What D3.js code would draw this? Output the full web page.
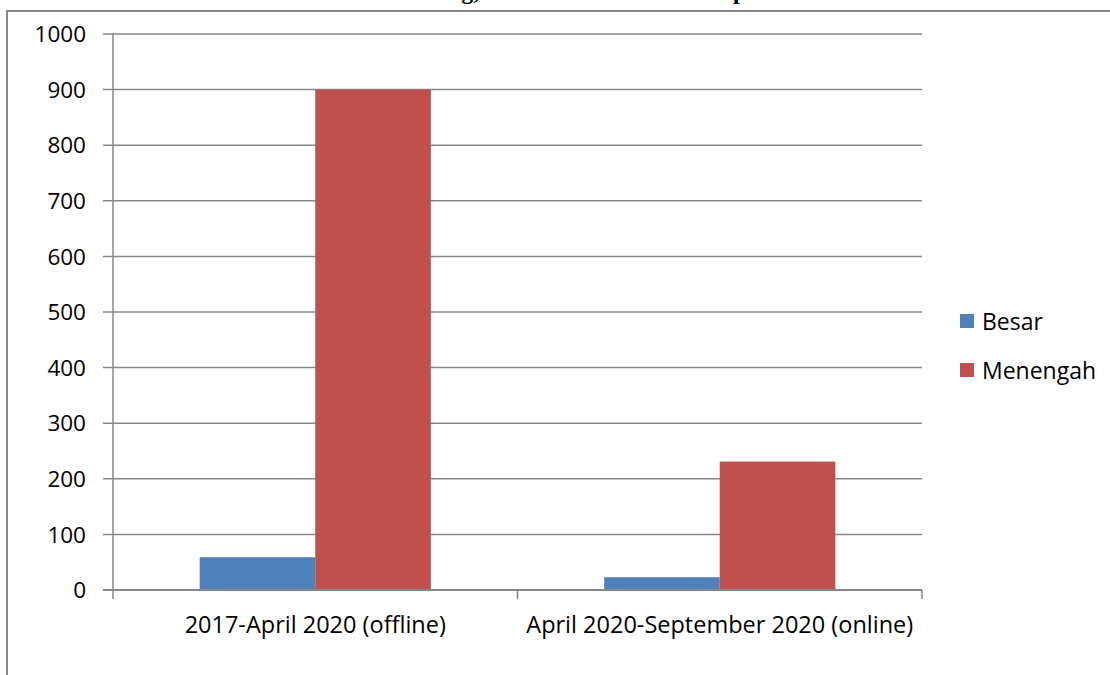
<!DOCTYPE html>
<html>
<head>
<meta charset="utf-8">
<script src="https://cdn.jsdelivr.net/npm/d3@7"></script>
<style>
  body { margin: 0; background: #fff; }
  svg text { font-family: "Open Sans", sans-serif; fill: #000; }
</style>
</head>
<body>
<div id="chart"></div>
<script>
"use strict";
// data
const categories = ["2017-April 2020 (offline)", "April 2020-September 2020 (online)"];
const seriesNames = ["Besar", "Menengah"];
const besar = [59, 23];
const menengah = [900, 231];
const yTicks = [0, 100, 200, 300, 400, 500, 600, 700, 800, 900, 1000];
const seriesColors = ["#4F81BD", "#C0504D"];

const width = 1110, height = 675;
const axisColor = "#878787";
const fontSize = 22.5;

const svg = d3.select("#chart").append("svg")
    .attr("width", width).attr("height", height);

// outer frame (only top and left edges visible)
svg.append("path")
    .attr("d", "M7,675 L7,11 L1110,11")
    .attr("fill", "none").attr("stroke", axisColor).attr("stroke-width", 2);

// title, cut off at the top of the picture as in the source
const title = svg.append("text")
    .attr("y", -1)
    .style("font-family", "'Liberation Serif', 'Times New Roman', serif")
    .style("font-weight", "bold")
    .style("font-size", "24px");
title.append("tspan").attr("x", 448).text("ng,");
title.append("tspan").attr("x", 733).text("p");

const plot = {left: 113, right: 922, top: 34, bottom: 590};

const x0 = d3.scaleBand().domain(categories).range([plot.left, plot.right]).padding(0);
const x1 = d3.scaleBand().domain(seriesNames).range([0, x0.bandwidth()])
    .paddingInner(0).paddingOuter(0.75);
const y = d3.scaleLinear().domain([0, 1000]).range([plot.bottom, plot.top]);

// gridlines + y tick marks
svg.append("g").selectAll("line").data(yTicks).join("line")
    .attr("x1", plot.left - 10).attr("x2", plot.right)
    .attr("y1", d => y(d)).attr("y2", d => y(d))
    .attr("stroke", axisColor).attr("stroke-width", 1.5);

// y labels
svg.append("g").selectAll("text").data(yTicks).join("text")
    .attr("x", 86).attr("y", d => y(d)).attr("dy", "0.36em")
    .attr("text-anchor", "end")
    .style("font-size", fontSize + "px")
    .text(d => d);

// bars
const rows = categories.map((c, i) => ({cat: c, vals: [besar[i], menengah[i]]}));
const grp = svg.append("g").selectAll("g").data(rows).join("g")
    .attr("transform", d => `translate(${x0(d.cat)},0)`);
grp.selectAll("rect").data(d => d.vals.map((v, j) => ({name: seriesNames[j], v: v, c: seriesColors[j]})))
    .join("rect")
    .attr("x", d => x1(d.name))
    .attr("width", x1.bandwidth())
    .attr("y", d => y(d.v))
    .attr("height", d => y(0) - y(d.v))
    .attr("fill", d => d.c);

// axes lines
svg.append("line")
    .attr("x1", plot.left).attr("x2", plot.left)
    .attr("y1", plot.top).attr("y2", plot.bottom)
    .attr("stroke", axisColor).attr("stroke-width", 1.5);
svg.append("line")
    .attr("x1", plot.left - 10).attr("x2", plot.right)
    .attr("y1", plot.bottom).attr("y2", plot.bottom)
    .attr("stroke", axisColor).attr("stroke-width", 2);

// x tick marks at category boundaries
const xBounds = categories.map(c => x0(c)).concat([plot.right]);
svg.append("g").selectAll("line").data(xBounds).join("line")
    .attr("x1", d => d).attr("x2", d => d)
    .attr("y1", plot.bottom).attr("y2", plot.bottom + 9)
    .attr("stroke", axisColor).attr("stroke-width", 1.5);

// category labels
svg.append("g").selectAll("text").data(categories).join("text")
    .attr("x", d => x0(d) + x0.bandwidth() / 2)
    .attr("y", 633)
    .attr("text-anchor", "middle")
    .style("font-size", "23.5px")
    .text(d => d);

// legend
const legend = svg.append("g").selectAll("g").data(seriesNames).join("g")
    .attr("transform", (d, i) => `translate(960,${314 + i * 49})`);
legend.append("rect")
    .attr("width", 14).attr("height", 14)
    .attr("fill", (d, i) => seriesColors[i]);
legend.append("text")
    .attr("x", 22).attr("y", 16)
    .style("font-size", "23px")
    .text(d => d);
</script>
</body>
</html>
